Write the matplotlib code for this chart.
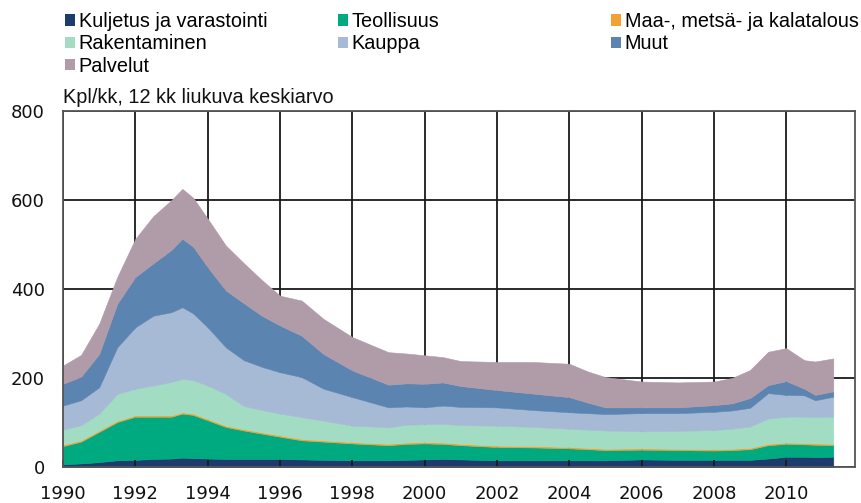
import matplotlib.pyplot as plt
from matplotlib.patches import Patch

# Konkurssit toimialoittain, kpl/kk, 12 kk liukuva keskiarvo (luettu kuvasta)
years = [1990.0, 1990.5, 1991.0, 1991.5, 1992.0, 1992.5, 1993.0, 1993.3, 1993.6,
         1994.0, 1994.5, 1995.0, 1995.5, 1996.0, 1996.6, 1997.2, 1998.0, 1999.0,
         1999.5, 2000.0, 2000.5, 2001.0, 2002.0, 2003.0, 2004.0, 2004.5, 2005.0,
         2006.0, 2007.0, 2008.0, 2008.5, 2009.0, 2009.5, 2010.0, 2010.5, 2010.8,
         2011.3]

kuljetus = [6, 8, 11, 15, 16, 18, 19, 21, 20, 19, 18, 18, 18, 18, 17, 16, 15, 15,
            16, 17, 18, 17, 15, 15, 15, 15, 15, 17, 16, 16, 16, 16, 19, 23, 23, 22, 23]
teollisuus = [41, 49, 68, 86, 97, 95, 94, 99, 97, 86, 72, 64, 57, 50, 43, 41, 38, 34,
              36, 36, 34, 32, 30, 29, 27, 25, 23, 22, 22, 21, 22, 24, 30, 29, 28, 28, 26]
maa = [3] * len(years)
rakentaminen = [34, 34, 38, 60, 60, 67, 75, 75, 75, 75, 71, 52, 50, 49, 49, 44, 37, 37,
                40, 40, 42, 42, 45, 43, 41, 41, 41, 38, 40, 43, 45, 48, 57, 58, 59, 59, 61]
kauppa = [54, 56, 59, 105, 138, 157, 157, 161, 150, 131, 105, 103, 97, 93, 90, 72, 64, 45,
          41, 38, 41, 41, 41, 38, 37, 37, 37, 41, 40, 41, 41, 42, 57, 49, 48, 38, 45]
muut = [49, 53, 75, 98, 113, 118, 140, 154, 150, 135, 128, 128, 115, 105, 93, 78, 60, 51,
        52, 53, 52, 47, 39, 37, 34, 24, 15, 13, 13, 15, 16, 22, 18, 31, 15, 12, 12]
palvelut = [41, 49, 68, 60, 86, 106, 112, 112, 110, 109, 101, 90, 80, 67, 79, 79, 75, 73,
            67, 64, 57, 56, 63, 71, 75, 70, 68, 58, 56, 53, 57, 63, 75, 74, 64, 75, 74]

labels = ["Kuljetus ja varastointi", "Teollisuus", "Maa-, metsä- ja kalatalous",
          "Rakentaminen", "Kauppa", "Muut", "Palvelut"]
colors = ["#1d3b6c", "#00aa80", "#f2a230", "#a2dcc3", "#a6bad5", "#5b84b1", "#b09ba9"]

font = ["Liberation Sans", "DejaVu Sans"]

fig = plt.figure(figsize=(8.61, 5.03), dpi=100)
ax = fig.add_axes([0.0732, 0.0716, 0.9198, 0.7077])

# ruudukko datan alle
xt = list(range(1990, 2012, 2))
yt = [0, 200, 400, 600, 800]
ax.vlines(xt, 0, 800, colors="#1a1a1a", lw=1.3, zorder=0.5)
ax.hlines(yt, 1990, 2011.9, colors="#1a1a1a", lw=1.3, zorder=0.5)

series = [kuljetus, teollisuus, maa, rakentaminen, kauppa, muut, palvelut]
polys = ax.stackplot(years, *series, colors=colors, lw=0.4, zorder=1)
for p, c in zip(polys, colors):
    p.set_edgecolor(c)

ax.set_xlim(1990, 2011.9)
ax.set_ylim(0, 800)
ax.set_xticks(xt)
ax.set_yticks(yt)
ax.tick_params(axis="x", direction="in", length=5, width=1.3, color="#1a1a1a",
               labelsize=13, pad=13, labelcolor="#111111")
ax.tick_params(axis="y", length=0, labelsize=13, pad=13, labelcolor="#111111")
for s in ax.spines.values():
    s.set_color("#555555")
    s.set_linewidth(1.3)

ax.text(0.0, 1.0225, "Kpl/kk, 12 kk liukuva keskiarvo", transform=ax.transAxes,
        ha="left", va="baseline", fontsize=14.3, family=font, color="#111111")

# selite kolmena sarakkeena
handles = [Patch(facecolor=c, edgecolor="none") for c in colors]
cols = [[0, 3, 6], [1, 4], [2, 5]]
xpos = [0.066, 0.383, 0.700]
for idx, x in zip(cols, xpos):
    fig.legend([handles[i] for i in idx], [labels[i] for i in idx],
               loc="upper left", bbox_to_anchor=(x, 0.992), frameon=False,
               prop={"family": font, "size": 14.3}, handlelength=0.5,
               handleheight=0.5, handletextpad=0.2, labelspacing=0.17,
               borderpad=0.2, borderaxespad=0.2)

fig.savefig("out.png", dpi=100, facecolor="white")
